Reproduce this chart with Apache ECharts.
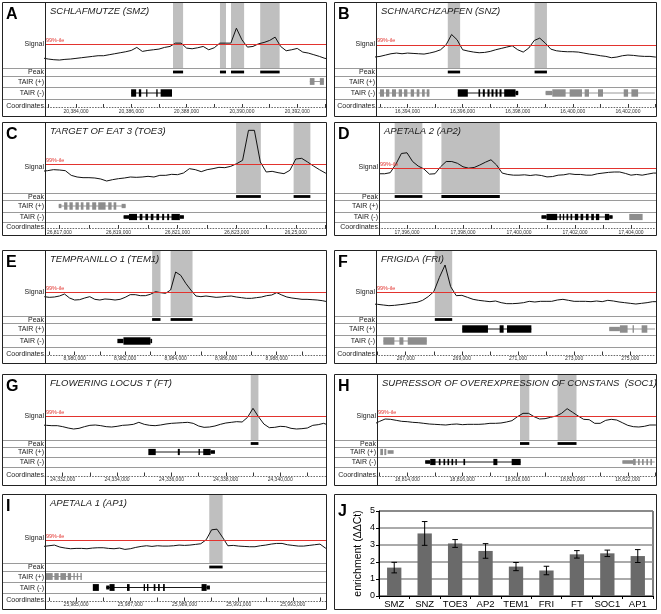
<!DOCTYPE html>
<html><head><meta charset="utf-8">
<script src="https://cdn.jsdelivr.net/npm/echarts@6/dist/echarts.min.js"></script>
<style>html,body{margin:0;padding:0;background:#fff}#c{width:661px;height:614px}</style>
</head><body><div id="c"></div>
<script>
// ---------------- DATA (genomic positions in kb) ----------------
const SIG_STEP = 0.2; // signal bin size (kb)

// A  SMZ
const A_range = [20382.88, 20393.04];
const A_ticks = [20383,20384,20385,20386,20387,20388,20389,20390,20391,20392,20393];
const A_labelAt = [20384,20386,20388,20390,20392];
const A_labelText = ['20,384,000','20,386,000','20,388,000','20,390,000','20,392,000'];
const A_sigStart = 20382.8;
const A_signal = [30,27,25,24,26,27,29,31,33,35,37,37,40,43,46,49,53,62,50,53,55,57,62,65,75,75,60,58,61,65,55,61,75,75,75,120,85,63,65,73,77,83,93,65,52,55,59,48,45,40,35,29,27];
const A_peaks = [[20387.509,20387.873],[20389.206,20389.424],[20389.606,20390.079],[20390.661,20391.364]];
const A_tairPlus = [[20392.455,20392.964,0,1],[20392.455,20392.624,1,1],[20392.818,20392.964,1,1]];
const A_tairMinus = [[20385.994,20387.473,0,0],[20385.994,20386.176,1,0],[20386.273,20386.358,1,0],[20386.539,20386.576,1,0],[20386.903,20386.952,1,0],[20387.061,20387.473,1,0]];

// B  SNZ
const B_range = [16392.855, 16403.02];
const B_ticks = [16393,16394,16395,16396,16397,16398,16399,16400,16401,16402,16403];
const B_labelAt = [16394,16396,16398,16400,16402];
const B_labelText = ['16,394,000','16,396,000','16,398,000','16,400,000','16,402,000'];
const B_sigStart = 16392.8;
const B_signal = [33,35,39,43,45,43,45,44,43,42,45,49,55,70,101,85,55,51,48,46,47,50,55,59,63,67,55,48,60,83,90,75,57,52,50,49,49,48,45,42,40,37,35,31,33,37,39,38,36,35,35,33,33];
const B_peaks = [[16395.461,16395.909],[16398.612,16399.061]];
const B_tairPlus = [];
const B_tairMinus = [
  [16392.952,16394.794,0,1],[16393.0,16393.145,1,1],[16393.218,16393.339,1,1],[16393.436,16393.582,1,1],[16393.679,16393.8,1,1],[16393.873,16393.994,1,1],[16394.115,16394.236,1,1],[16394.333,16394.43,1,1],[16394.527,16394.624,1,1],[16394.697,16394.794,1,1],
  [16395.824,16398.018,0,0],[16395.824,16396.188,1,0],[16396.576,16396.636,1,0],[16396.733,16396.806,1,0],[16396.903,16396.976,1,0],[16397.048,16397.121,1,0],[16397.194,16397.267,1,0],[16397.339,16397.412,1,0],[16397.509,16397.921,1,0],[16397.921,16398.018,2,0],
  [16399.012,16402.976,0,1],[16399.012,16399.255,2,1],[16399.255,16399.739,1,1],[16399.885,16400.333,1,1],[16400.43,16400.588,1,1],[16400.915,16401.097,1,1],[16401.848,16402.006,1,1],[16402.127,16402.37,1,1]];

// C  TOE3
const C_range = [26816.513, 26826.023];
const C_ticks = [26817,26818,26819,26820,26821,26822,26823,26824,26825,26826];
const C_labelAt = [26817,26819,26821,26823,26825];
const C_labelText = ['26,817,000','26,819,000','26,821,000','26,823,000','26,25,000'];
const C_sigStart = 26816.4;
const C_signal = [65,67,70,69,67,53,48,46,46,45,42,36,40,43,45,48,47,48,50,48,53,53,56,55,60,73,70,64,70,73,77,76,80,88,98,188,188,93,63,65,61,58,68,102,104,93,81,70,60,56];
const C_peaks = [[26822.98,26823.818],[26824.927,26825.494]];
const C_tairPlus = [[26816.977,26819.242,0,1],[26816.977,26817.068,2,1],[26817.159,26817.272,1,1],[26817.34,26817.453,1,1],[26817.544,26817.657,1,1],[26817.725,26817.815,1,1],[26817.906,26818.019,1,1],[26818.11,26818.246,1,1],[26818.314,26818.563,1,1],[26818.653,26818.767,1,1],[26818.835,26818.925,1,1],[26819.106,26819.242,2,1]];
const C_tairMinus = [[26819.174,26821.213,0,0],[26819.174,26819.356,2,0],[26819.356,26819.627,1,0],[26819.718,26819.809,1,0],[26819.911,26820.001,1,0],[26820.092,26820.182,1,0],[26820.284,26820.375,1,0],[26820.477,26820.545,1,0],[26820.647,26820.715,1,0],[26820.794,26821.077,1,0],[26821.077,26821.213,2,0]];

// D  AP2
const D_range = [17395.0, 17404.894];
const D_ticks = [17395,17396,17397,17398,17399,17400,17401,17402,17403,17404];
const D_labelAt = [17396,17398,17400,17402,17404];
const D_labelText = ['17,396,000','17,398,000','17,400,000','17,402,000','17,404,000'];
const D_sigStart = 17395.0;
const D_signal = [55,55,58,82,113,115,90,77,69,54,55,75,90,90,85,75,71,73,80,88,95,80,57,53,51,51,52,50,52,50,46,47,51,52,55,53,53,51,51,55,57,59,60,60,56,51,53,51,54,57,57];
const D_peaks = [[17395.56,17396.549],[17397.229,17399.315]];
const D_tairPlus = [];
const D_tairMinus = [[17400.805,17403.343,0,0],[17400.805,17400.983,2,0],[17400.983,17401.365,1,0],[17401.448,17401.496,1,0],[17401.567,17401.615,1,0],[17401.698,17401.758,1,0],[17401.841,17401.901,1,0],[17401.996,17402.116,1,0],[17402.199,17402.294,1,0],[17402.39,17402.485,1,0],[17402.58,17402.676,1,0],[17402.747,17402.866,1,0],[17403.069,17403.224,1,0],[17403.224,17403.343,2,0],[17403.939,17404.416,1,1]];

// E  TEM1
const E_range = [8978.828, 8989.95];
const E_ticks = [8979,8980,8981,8982,8983,8984,8985,8986,8987,8988,8989];
const E_labelAt = [8980,8982,8984,8986,8988];
const E_labelText = ['8,980,000','8,982,000','8,984,000','8,986,000','8,988,000'];
const E_sigStart = 8978.8;
const E_signal = [58,56,57,60,66,54,48,49,54,58,50,48,51,50,48,50,56,64,64,61,61,65,73,70,68,78,132,122,98,78,60,58,60,58,56,57,59,60,57,55,53,53,55,57,61,63,70,63,57,54,52,50,50,49,48,46,43];
const E_peaks = [[8983.067,8983.4],[8983.8,8984.667]];
const E_tairPlus = [];
const E_tairMinus = [[8981.693,8981.933,2,0],[8981.933,8983.0,1,0],[8983.0,8983.067,2,0]];

// F  FRI
const F_range = [265.94, 275.917];
const F_ticks = [266,267,268,269,270,271,272,273,274,275];
const F_labelAt = [267,269,271,273,275];
const F_labelText = ['267,000','269,000','271,000','273,000','275,000'];
const F_sigStart = 265.8;
const F_signal = [36,35,33,31,32,34,36,39,41,47,58,73,116,153,88,61,62,56,50,47,45,43,45,40,37,37,38,40,44,42,44,44,44,48,50,47,44,44,44,43,45,43,47,45,42,40,38,36,38,40,43,43];
const F_peaks = [[268.036,268.655]];
const F_tairPlus = [[269.012,271.476,0,0],[269.012,269.929,1,0],[270.345,270.488,1,0],[270.607,271.476,1,0],[274.25,275.881,0,1],[274.25,274.631,2,1],[274.631,274.905,1,1],[275.083,275.131,1,1],[275.405,275.607,1,1]];
const F_tairMinus = [[266.202,267.75,0,1],[266.202,266.595,1,1],[266.774,266.917,1,1],[267.071,267.75,1,1]];

// G  FT
const G_range = [24331.348, 24341.686];
const G_ticks = [24332,24333,24334,24335,24336,24337,24338,24339,24340,24341];
const G_labelAt = [24332,24334,24336,24338,24340];
const G_labelText = ['24,332,000','24,334,000','24,336,000','24,338,000','24,340,000'];
const G_sigStart = 24331.2;
const G_signal = [45,44,43,43,40,36,33,35,40,44,45,43,40,39,41,44,45,47,53,47,44,43,45,48,50,51,52,53,50,42,38,39,42,47,51,53,55,54,68,95,70,48,37,38,41,40,35,33,34,36,44,46,50,44];
const G_peaks = [[24338.917,24339.2]];
const G_tairPlus = [[24335.2,24337.6,0,0],[24335.15,24335.422,1,0],[24336.234,24336.308,1,0],[24336.997,24337.046,1,0],[24337.169,24337.44,1,0],[24337.44,24337.6,2,0]];
const G_tairMinus = [];

// H  SOC1
const H_range = [18812.904, 18823.024];
const H_ticks = [18813,18814,18815,18816,18817,18818,18819,18820,18821,18822,18823];
const H_labelAt = [18814,18816,18818,18820,18822];
const H_labelText = ['18,814,000','18,816,000','18,818,000','18,820,000','18,822,000'];
const H_sigStart = 18812.8;
const H_signal = [48,56,63,62,59,56,55,53,52,50,48,47,46,45,47,48,46,47,47,47,48,50,50,51,54,58,70,80,80,70,63,64,68,72,80,94,83,72,62,61,50,50,59,62,60,52,44,40,39,41,45,45,45];
const H_peaks = [[18818.09,18818.428],[18819.454,18820.141]];
const H_tairPlus = [[18813.024,18813.121,1,1],[18813.169,18813.241,1,1],[18813.29,18813.507,2,1]];
const H_tairMinus = [[18814.653,18818.115,0,0],[18814.653,18814.834,2,0],[18814.834,18815.027,1,0],[18815.147,18815.207,1,0],[18815.316,18815.376,1,0],[18815.461,18815.521,1,0],[18815.606,18815.666,1,0],[18815.75,18815.799,1,0],[18816.04,18816.1,1,0],[18817.125,18817.27,1,0],[18817.789,18818.115,1,0],
  [18821.806,18822.976,0,1],[18821.806,18822.192,2,1],[18822.192,18822.288,1,1],[18822.373,18822.433,1,1],[18822.517,18822.578,1,1],[18822.674,18822.735,1,1],[18822.819,18822.879,1,1]];

// I  AP1
const I_range = [25983.852, 25994.222];
const I_ticks = [25984,25985,25986,25987,25988,25989,25990,25991,25992,25993,25994];
const I_labelAt = [25985,25987,25989,25991,25993];
const I_labelText = ['25,985,000','25,987,000','25,989,000','25,991,000','25,993,000'];
const I_sigStart = 25983.8;
const I_signal = [50,52,54,48,45,43,44,44,43,45,46,46,44,43,45,41,43,47,50,52,50,52,51,51,52,54,53,54,56,58,70,100,102,78,52,53,51,50,49,49,52,54,57,59,59,55,53,51,51,53,55,57,45,45];
const I_peaks = [[25989.914,25990.407]];
const I_tairPlus = [[25983.852,25985.21,0,1],[25983.852,25984.136,1,1],[25984.198,25984.358,1,1],[25984.42,25984.63,1,1],[25984.691,25984.815,1,1],[25984.901,25984.951,1,1],[25985.025,25985.074,1,1],[25985.16,25985.21,1,1]];
const I_tairMinus = [[25985.617,25985.84,1,0],[25986.111,25989.815,0,0],[25986.111,25986.235,2,0],[25986.235,25986.42,1,0],[25986.877,25986.975,1,0],[25987.494,25987.543,1,0],[25987.617,25987.667,1,0],[25987.864,25987.926,1,0],[25988.025,25988.086,1,0],[25988.21,25988.272,1,0],[25989.63,25989.815,1,0],[25989.815,25989.938,2,0]];

// signal axis tops and 99th-percentile thresholds (same arbitrary units as the signal)
const SIG_MAX = [199,199,213,203,198,198,198,198,208];
const THRESH  = [72,70,86,70,71,71,70,70,69];
const TITLES  = ['SCHLAFMUTZE (SMZ)','SCHNARCHZAPFEN (SNZ)','TARGET OF EAT 3 (TOE3)','APETALA 2 (AP2)','TEMPRANILLO 1 (TEM1)','FRIGIDA (FRI)','FLOWERING LOCUS T (FT)','SUPRESSOR OF OVEREXPRESSION OF CONSTANS  (SOC1)','APETALA 1 (AP1)'];
const LETTERS = ['A','B','C','D','E','F','G','H','I'];

// J  ChIP-qPCR enrichment
const J_categories = ['SMZ','SNZ','TOE3','AP2','TEM1','FRI','FT','SOC1','AP1'];
const J_values = [1.67,3.68,3.09,2.65,1.73,1.5,2.45,2.51,2.35];
const J_errors = [0.31,0.70,0.23,0.43,0.24,0.25,0.22,0.19,0.38];

// ---------------- LAYOUT ----------------
const FONT = '"Liberation Sans", Arial, Helvetica, sans-serif';
const ROWS = [
  {T:2,   h:[66,8,11,12], B:116},
  {T:122, h:[71,7,12,10], B:235},
  {T:250, h:[66,7,12,12], B:363},
  {T:374, h:[66,7,10,10], B:485},
  {T:494, h:[69,8,11,11], B:609}
];
const PANELS = [
  {row:0, L:2,   R:326, div:45,  d:[A_range,A_ticks,A_labelAt,A_labelText,A_sigStart,A_signal,A_peaks,A_tairPlus,A_tairMinus]},
  {row:0, L:334, R:656, div:376, d:[B_range,B_ticks,B_labelAt,B_labelText,B_sigStart,B_signal,B_peaks,B_tairPlus,B_tairMinus]},
  {row:1, L:2,   R:326, div:45,  d:[C_range,C_ticks,C_labelAt,C_labelText,C_sigStart,C_signal,C_peaks,C_tairPlus,C_tairMinus]},
  {row:1, L:334, R:656, div:379, d:[D_range,D_ticks,D_labelAt,D_labelText,D_sigStart,D_signal,D_peaks,D_tairPlus,D_tairMinus]},
  {row:2, L:2,   R:326, div:45,  d:[E_range,E_ticks,E_labelAt,E_labelText,E_sigStart,E_signal,E_peaks,E_tairPlus,E_tairMinus]},
  {row:2, L:334, R:656, div:376, d:[F_range,F_ticks,F_labelAt,F_labelText,F_sigStart,F_signal,F_peaks,F_tairPlus,F_tairMinus]},
  {row:3, L:2,   R:326, div:45,  d:[G_range,G_ticks,G_labelAt,G_labelText,G_sigStart,G_signal,G_peaks,G_tairPlus,G_tairMinus]},
  {row:3, L:334, R:656, div:377, d:[H_range,H_ticks,H_labelAt,H_labelText,H_sigStart,H_signal,H_peaks,H_tairPlus,H_tairMinus]},
  {row:4, L:2,   R:326, div:45,  d:[I_range,I_ticks,I_labelAt,I_labelText,I_sigStart,I_signal,I_peaks,I_tairPlus,I_tairMinus]}
];
const GRAY = '#8d8d8d';
const SHADE = '#bfbfbf';
const RED = '#e2332e';

const grids = [], xAxes = [], yAxes = [], series = [], graphics = [];
function addGrid(x, y, w, h, xa, ya) {
  grids.push({left:x, top:y, width:w, height:h});
  const i = grids.length - 1;
  xAxes.push(Object.assign({gridIndex:i}, xa));
  yAxes.push(Object.assign({gridIndex:i}, ya));
  return i;
}
function txt(x, y, text, size, o) {
  o = o || {};
  return {type:'text', x:x, y:y, silent:true, z:100,
    style:{text:text, fill:o.color || '#222', font:(o.style || '') + ' ' + (o.weight || '') + ' ' + size + 'px ' + (o.family || FONT),
      textAlign:o.align || 'left', textVerticalAlign:'middle', verticalAlign:'middle'}};
}
function hline(x1, x2, y, col, w) {
  return {type:'line', silent:true, z:90, shape:{x1:x1, y1:y, x2:x2, y2:y}, style:{stroke:col, lineWidth:w}};
}

function geneRender(params, api) {
  const s = api.coord([api.value(0), 0.5]);
  const e = api.coord([api.value(1), 0.5]);
  const kind = api.value(2);
  const col = api.value(3) ? GRAY : '#000';
  const h = params.coordSys.height;
  const cy = s[1];
  if (kind === 0) {
    return {type:'line', shape:{x1:s[0], y1:cy, x2:e[0], y2:cy}, style:{stroke:col, lineWidth:0.9}};
  }
  const bh = kind === 1 ? h * 0.62 : h * 0.36;
  return {type:'rect', shape:{x:s[0], y:cy - bh/2, width:Math.max(e[0]-s[0], 1.2), height:bh}, style:{fill:col}};
}
function peakBarRender(params, api) {
  const s = api.coord([api.value(0), 0.5]);
  const e = api.coord([api.value(1), 0.5]);
  return {type:'rect', shape:{x:s[0], y:s[1]-1.4, width:e[0]-s[0], height:2.8}, style:{fill:'#000'}};
}
function shadeRender(params, api) {
  const s = api.coord([api.value(0), 0]);
  const e = api.coord([api.value(1), 0]);
  const cs = params.coordSys;
  return {type:'rect', shape:{x:s[0], y:cs.y, width:e[0]-s[0], height:cs.height}, style:{fill:SHADE}};
}

PANELS.forEach(function(p, pi) {
  const [range, ticks, labelAt, labelText, sigStart, signal, peaks, plus, minus] = p.d;
  const r = ROWS[p.row];
  const x0 = p.div, w = p.R - p.div;
  const xa = {type:'value', min:range[0], max:range[1], show:false};
  let y = r.T;
  // signal track
  const gS = addGrid(x0, y, w, r.h[0], xa, {type:'value', min:0, max:SIG_MAX[pi], show:false});
  series.push({type:'custom', xAxisIndex:gS, yAxisIndex:gS, z:1, silent:true, clip:true,
    renderItem:shadeRender, encode:{x:[0,1]}, data:peaks});
  series.push({type:'line', xAxisIndex:gS, yAxisIndex:gS, z:3, silent:true, symbol:'none', showSymbol:false,
    lineStyle:{color:'#111', width:1}, clip:true,
    data:signal.map(function(v, k){ return [sigStart + k*SIG_STEP, v]; }),
    markLine:{silent:true, symbol:'none', animation:false,
      lineStyle:{color:RED, width:1, type:'solid'},
      label:{show:true, position:'insideStartTop', formatter:'99%-ile', color:RED, fontSize:5.5, distance:[1,1], fontFamily:FONT},
      data:[{yAxis:THRESH[pi]}]}});
  y += r.h[0];
  // peak track
  const gP = addGrid(x0, y, w, r.h[1], xa, {type:'value', min:0, max:1, show:false});
  series.push({type:'custom', xAxisIndex:gP, yAxisIndex:gP, silent:true, clip:true, renderItem:peakBarRender, encode:{x:[0,1]}, data:peaks});
  y += r.h[1];
  // TAIR (+)
  const gPl = addGrid(x0, y, w, r.h[2], xa, {type:'value', min:0, max:1, show:false});
  series.push({type:'custom', xAxisIndex:gPl, yAxisIndex:gPl, silent:true, clip:true, renderItem:geneRender, encode:{x:[0,1]}, data:plus});
  y += r.h[2];
  // TAIR (-)
  const gMi = addGrid(x0, y, w, r.h[3], xa, {type:'value', min:0, max:1, show:false});
  series.push({type:'custom', xAxisIndex:gMi, yAxisIndex:gMi, silent:true, clip:true, renderItem:geneRender, encode:{x:[0,1]}, data:minus});
  y += r.h[3];
  // Coordinates axis
  const coTop = y, axisY = y + (r.B - y) * 0.5;
  addGrid(x0, coTop, w, axisY - coTop, {
    type:'value', min:range[0], max:range[1], position:'bottom',
    axisLine:{show:true, onZero:false, lineStyle:{color:'#444', width:0.8, type:[0.8,2]}},
    axisTick:{show:true, inside:true, length:3.5, customValues:ticks, lineStyle:{color:'#222', width:0.9}},
    axisLabel:{show:true, customValues:labelAt, margin:1.5, fontSize:5, color:'#333', fontFamily:FONT,
      formatter:function(v){ const i = labelAt.indexOf(Math.round(v)); return i >= 0 ? labelText[i] : ''; }},
    splitLine:{show:false}
  }, {type:'value', min:0, max:1, show:false});

  // frames, separators, labels
  graphics.push({type:'rect', silent:true, z:95, shape:{x:p.L+0.5, y:r.T+0.5, width:p.R-p.L, height:r.B-r.T}, style:{fill:'none', stroke:'#222', lineWidth:1}});
  graphics.push({type:'line', silent:true, z:95, shape:{x1:p.div+0.5, y1:r.T, x2:p.div+0.5, y2:r.B}, style:{stroke:'#222', lineWidth:1}});
  let yy = r.T;
  for (let k = 0; k < 4; k++) { yy += r.h[k]; graphics.push(hline(p.L, p.R, yy + 0.5, '#9a9a9a', 1)); }
  const lx = p.div - 1;
  let ry = r.T;
  graphics.push(txt(lx, r.T + r.h[0]*0.64, 'Signal', 7, {align:'right'}));
  ry += r.h[0];
  graphics.push(txt(lx, ry + r.h[1]/2 + 0.5, 'Peak', 7, {align:'right'}));
  ry += r.h[1];
  graphics.push(txt(lx, ry + r.h[2]/2 + 0.5, 'TAIR (+)', 7, {align:'right'}));
  ry += r.h[2];
  graphics.push(txt(lx, ry + r.h[3]/2 + 0.5, 'TAIR (-)', 7, {align:'right'}));
  graphics.push(txt(lx, axisY - 1, 'Coordinates', 7, {align:'right'}));
  graphics.push(txt(p.div + 5, r.T + 9, TITLES[pi], 9.5, {style:'italic', color:'#1a1a1a'}));
  graphics.push(txt(p.L + 4, r.T + 13, LETTERS[pi], 16, {weight:'bold', color:'#000'}));
});

// ---------------- J bar chart ----------------
const gJ = addGrid(379, 511, 274, 85, {
  type:'category', data:J_categories,
  axisLine:{show:true, lineStyle:{color:'#000', width:1}},
  axisTick:{show:true, length:3, lineStyle:{color:'#000'}},
  axisLabel:{interval:0, fontSize:9.5, color:'#000', margin:3, fontFamily:'"Liberation Sans Narrow", "Liberation Sans", Arial, sans-serif'}
}, {
  type:'value', min:0, max:5, interval:1,
  axisLine:{show:true, lineStyle:{color:'#000', width:1}},
  axisTick:{show:true, length:3, lineStyle:{color:'#000'}},
  axisLabel:{fontSize:9, color:'#000', margin:4, fontFamily:FONT},
  splitLine:{show:true, lineStyle:{color:'#8e8e8e', width:1.5}},
  name:'enrichment (ΔΔCt)', nameLocation:'middle', nameGap:15, nameRotate:90,
  nameTextStyle:{fontSize:10.5, color:'#000', fontFamily:FONT}
});
grids[gJ].show = true; grids[gJ].borderColor = '#000'; grids[gJ].borderWidth = 1;
series.push({type:'bar', xAxisIndex:gJ, yAxisIndex:gJ, silent:true, barWidth:'47%', z:2,
  itemStyle:{color:'#6a6a6a'}, data:J_values});
series.push({type:'custom', xAxisIndex:gJ, yAxisIndex:gJ, silent:true, z:5, encode:{x:0, y:[1,2]},
  data:J_values.map(function(v, i){ return [i, v - J_errors[i], v + J_errors[i]]; }),
  renderItem:function(params, api){
    const lo = api.coord([api.value(0), api.value(1)]);
    const hi = api.coord([api.value(0), api.value(2)]);
    const c = 2.8, st = {stroke:'#000', lineWidth:1};
    return {type:'group', children:[
      {type:'line', shape:{x1:lo[0], y1:lo[1], x2:hi[0], y2:hi[1]}, style:st},
      {type:'line', shape:{x1:lo[0]-c, y1:lo[1], x2:lo[0]+c, y2:lo[1]}, style:st},
      {type:'line', shape:{x1:hi[0]-c, y1:hi[1], x2:hi[0]+c, y2:hi[1]}, style:st}]};
  }});
graphics.push({type:'rect', silent:true, z:95, shape:{x:334.5, y:494.5, width:322, height:115}, style:{fill:'none', stroke:'#222', lineWidth:1}});
graphics.push(txt(338, 512, 'J', 16, {weight:'bold', color:'#000'}));

const chart = echarts.init(document.getElementById('c'), null, {renderer:'canvas'});
chart.setOption({
  animation:false,
  backgroundColor:'#fff',
  textStyle:{fontFamily:FONT},
  grid:grids, xAxis:xAxes, yAxis:yAxes, series:series, graphic:graphics
});
</script></body></html>
